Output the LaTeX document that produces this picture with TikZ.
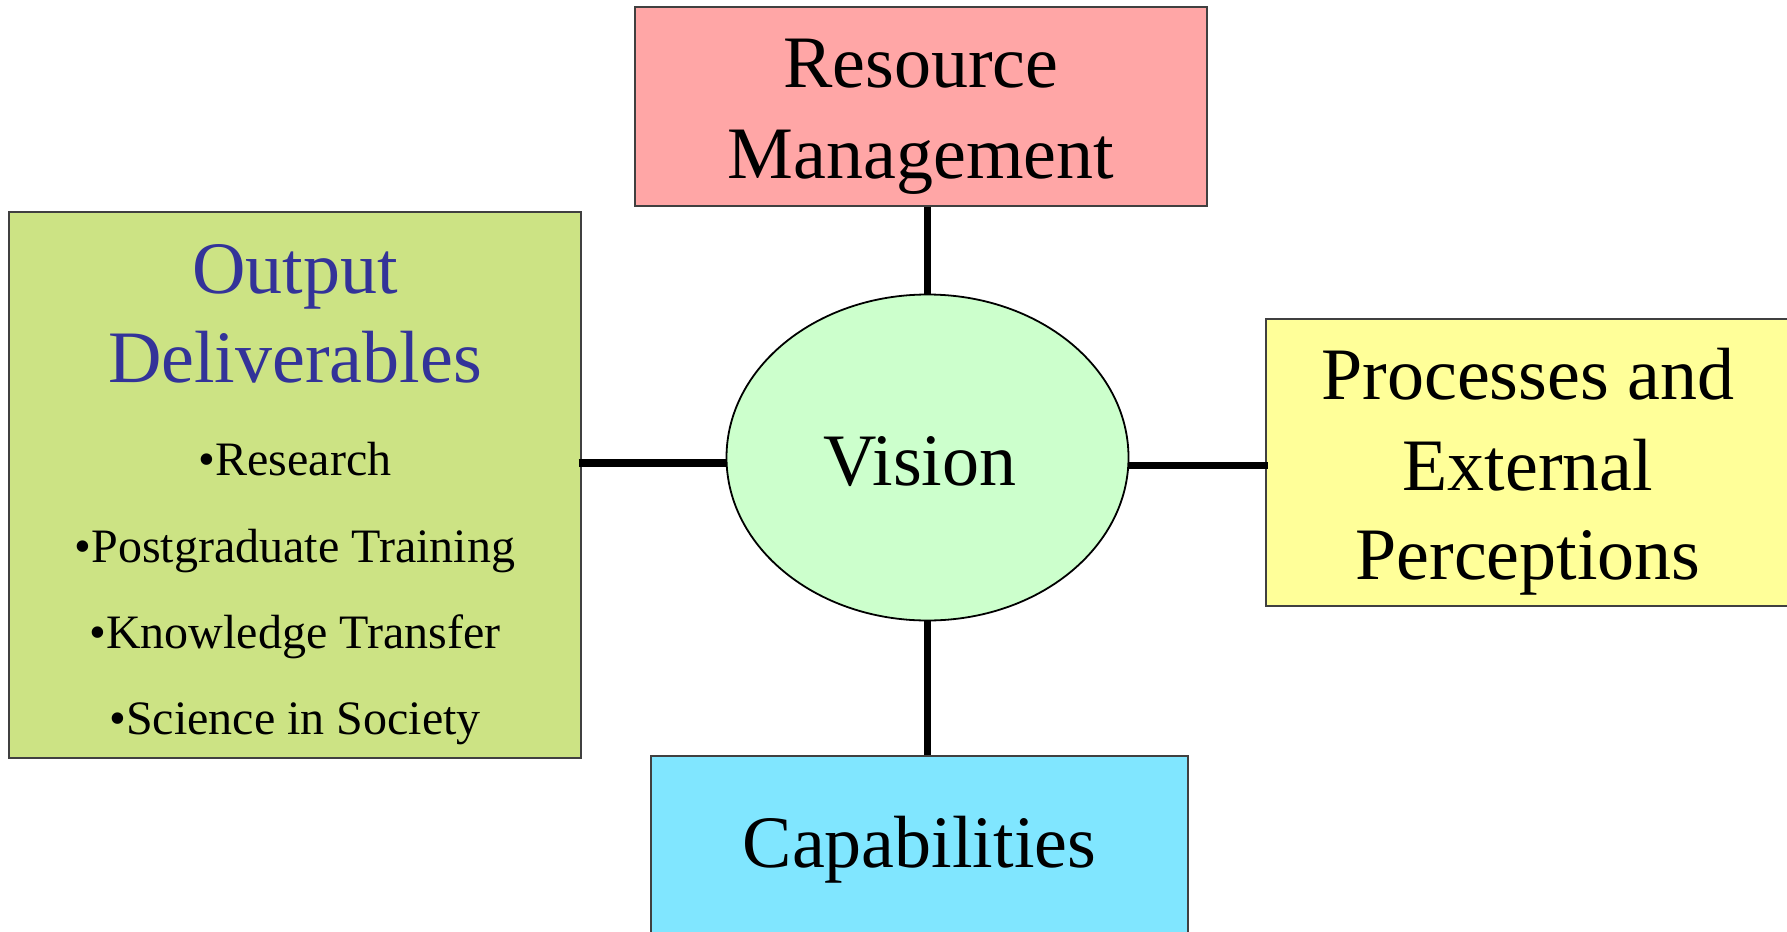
\documentclass[tikz,border=0pt]{standalone}
\usepackage{fontspec}
\setmainfont{Liberation Serif}
\usetikzlibrary{shapes.geometric}

\definecolor{resfill}{HTML}{FFA6A6}
\definecolor{outfill}{HTML}{CCE384}
\definecolor{procfill}{HTML}{FFFF99}
\definecolor{capfill}{HTML}{80E6FF}
\definecolor{visfill}{HTML}{CCFFCC}
\definecolor{titleblue}{HTML}{333399}
\definecolor{boxline}{HTML}{404040}

\tikzset{
  panel/.style={draw=boxline, line width=0.6pt, rectangle, inner sep=0pt},
  bigtext/.style={anchor=base, inner sep=0pt, font=\fontsize{37}{44}\selectfont},
  itemtext/.style={anchor=base, inner sep=0pt, font=\fontsize{24}{30}\selectfont},
  link/.style={line width=3.8pt, line cap=butt}
}

\begin{document}
\begin{tikzpicture}[x=0.5pt, y=-0.5pt]
  \useasboundingbox (0,0) rectangle (1787,931);

  % surrounding boxes
  \node[panel, fill=resfill,  minimum width=286pt,   minimum height=99.5pt]  (res)  at (921,106.5) {};
  \node[panel, fill=outfill,  minimum width=286pt,   minimum height=273pt]   (out)  at (295,485) {};
  \node[panel, fill=procfill, minimum width=263pt,   minimum height=143.5pt] (proc) at (1529,462.5) {};
  \node[panel, fill=capfill,  minimum width=268.5pt, minimum height=90pt]    (cap)  at (919.5,846) {};

  % central ellipse
  \node[ellipse, draw=black, line width=0.9pt, fill=visfill,
        minimum width=201pt, minimum height=163pt, inner sep=0pt] (vision) at (927.5,457.5) {};

  % spokes
  \coordinate (lh) at (0,463);
  \coordinate (rh) at (0,465.5);
  \draw[link] (res.south -| vision.north) -- (vision.north);
  \draw[link] (vision.south) -- (vision.south |- cap.north);
  \draw[link] ([xshift=-1.5pt]out.east |- lh) -- (vision.west |- lh);
  \draw[link] (vision.east |- rh) -- ([xshift=1.5pt]proc.west |- rh);

  % labels
  \node[bigtext] (resA) at (921,88)  {Resource};
  \node[bigtext] (resB) at (921,178) {Management};

  \node[bigtext] (visA) at (920,485) {Vision};

  \node[bigtext] (procA) at (1528,399) {Processes and};
  \node[bigtext] (procB) at (1528,490) {External};
  \node[bigtext] (procC) at (1528,579) {Perceptions};

  \node[bigtext] (capA) at (919.5,867) {Capabilities};

  \node[bigtext, text=titleblue] (outA) at (295,293) {Output};
  \node[bigtext, text=titleblue] (outB) at (295,382) {Deliverables};
  \node[itemtext] (itA) at (295,475) {•Research};
  \node[itemtext] (itB) at (295,562) {•Postgraduate Training};
  \node[itemtext] (itC) at (295,648) {•Knowledge Transfer};
  \node[itemtext] (itD) at (295,734) {•Science in Society};
\end{tikzpicture}
\end{document}
